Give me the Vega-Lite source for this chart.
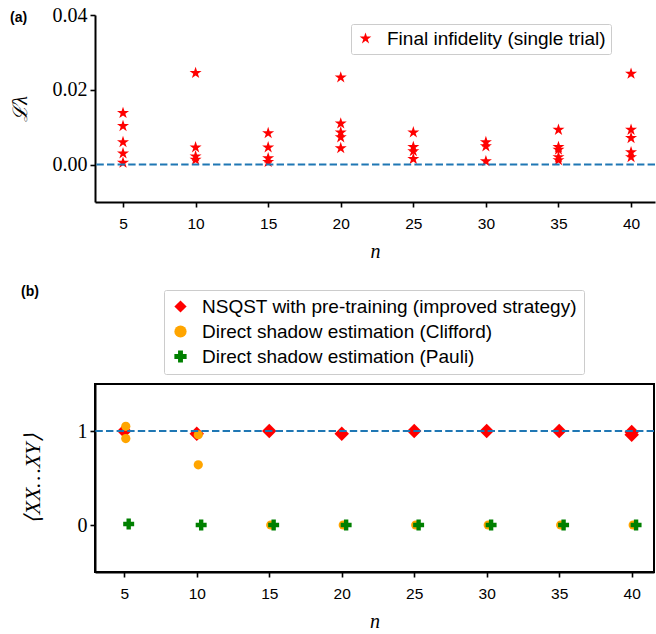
{
  "$schema": "https://vega.github.io/schema/vega-lite/v6.json",
  "padding": {"left": 10, "top": 5, "right": 0, "bottom": 0},
  "spacing": 21,
  "resolve": {"scale": {"color": "independent", "shape": "independent", "x": "independent", "y": "independent"}, "legend": {"color": "independent", "shape": "independent"}},
  "config": {
    "font": "Liberation Sans",
    "view": {"strokeWidth": 2},
    "axis": {"domainColor": "black", "domainWidth": 2, "tickColor": "black", "tickWidth": 1.6, "tickSize": 5, "grid": false, "labelColor": "black", "titleColor": "black", "titleFontWeight": "normal", "titleFont": "Liberation Serif", "titleFontStyle": "italic", "titleFontSize": 20},
    "axisX": {"labelFont": "Liberation Sans", "labelFontSize": 15.5, "labelPadding": 9, "titlePadding": 10},
    "axisY": {"labelFont": "Liberation Serif", "labelFontSize": 20, "labelPadding": 3},
    "legend": {"title": null, "orient": "none", "strokeColor": "#cccccc", "fillColor": "white", "cornerRadius": 2, "padding": 7, "labelFont": "Liberation Sans", "labelFontSize": 19, "labelColor": "black", "labelOffset": 12, "labelLimit": 0, "rowPadding": 5, "symbolSize": 150, "symbolStrokeWidth": 0}
  },
  "datasets": {
    "a": [
      {"n": 5, "loss": 0.0138, "series": "Final infidelity (single trial)"},
      {"n": 5, "loss": 0.0103, "series": "Final infidelity (single trial)"},
      {"n": 5, "loss": 0.0060, "series": "Final infidelity (single trial)"},
      {"n": 5, "loss": 0.0030, "series": "Final infidelity (single trial)"},
      {"n": 5, "loss": 0.0005, "series": "Final infidelity (single trial)"},
      {"n": 10, "loss": 0.0245, "series": "Final infidelity (single trial)"},
      {"n": 10, "loss": 0.0046, "series": "Final infidelity (single trial)"},
      {"n": 10, "loss": 0.0022, "series": "Final infidelity (single trial)"},
      {"n": 10, "loss": 0.0013, "series": "Final infidelity (single trial)"},
      {"n": 15, "loss": 0.0084, "series": "Final infidelity (single trial)"},
      {"n": 15, "loss": 0.0046, "series": "Final infidelity (single trial)"},
      {"n": 15, "loss": 0.0017, "series": "Final infidelity (single trial)"},
      {"n": 15, "loss": 0.0007, "series": "Final infidelity (single trial)"},
      {"n": 20, "loss": 0.0233, "series": "Final infidelity (single trial)"},
      {"n": 20, "loss": 0.0110, "series": "Final infidelity (single trial)"},
      {"n": 20, "loss": 0.0086, "series": "Final infidelity (single trial)"},
      {"n": 20, "loss": 0.0073, "series": "Final infidelity (single trial)"},
      {"n": 20, "loss": 0.0044, "series": "Final infidelity (single trial)"},
      {"n": 25, "loss": 0.0086, "series": "Final infidelity (single trial)"},
      {"n": 25, "loss": 0.0047, "series": "Final infidelity (single trial)"},
      {"n": 25, "loss": 0.0036, "series": "Final infidelity (single trial)"},
      {"n": 25, "loss": 0.0015, "series": "Final infidelity (single trial)"},
      {"n": 30, "loss": 0.0060, "series": "Final infidelity (single trial)"},
      {"n": 30, "loss": 0.0049, "series": "Final infidelity (single trial)"},
      {"n": 30, "loss": 0.0009, "series": "Final infidelity (single trial)"},
      {"n": 35, "loss": 0.0093, "series": "Final infidelity (single trial)"},
      {"n": 35, "loss": 0.0047, "series": "Final infidelity (single trial)"},
      {"n": 35, "loss": 0.0040, "series": "Final infidelity (single trial)"},
      {"n": 35, "loss": 0.0020, "series": "Final infidelity (single trial)"},
      {"n": 35, "loss": 0.0012, "series": "Final infidelity (single trial)"},
      {"n": 40, "loss": 0.0243, "series": "Final infidelity (single trial)"},
      {"n": 40, "loss": 0.0093, "series": "Final infidelity (single trial)"},
      {"n": 40, "loss": 0.0071, "series": "Final infidelity (single trial)"},
      {"n": 40, "loss": 0.0033, "series": "Final infidelity (single trial)"},
      {"n": 40, "loss": 0.0020, "series": "Final infidelity (single trial)"}
    ],
    "b": [
      {"n": 5, "value": 1.0, "series": "NSQST with pre-training (improved strategy)"},
      {"n": 10, "value": 0.97, "series": "NSQST with pre-training (improved strategy)"},
      {"n": 15, "value": 1.0, "series": "NSQST with pre-training (improved strategy)"},
      {"n": 20, "value": 0.97, "series": "NSQST with pre-training (improved strategy)"},
      {"n": 25, "value": 1.0, "series": "NSQST with pre-training (improved strategy)"},
      {"n": 30, "value": 1.0, "series": "NSQST with pre-training (improved strategy)"},
      {"n": 35, "value": 1.0, "series": "NSQST with pre-training (improved strategy)"},
      {"n": 40, "value": 0.99, "series": "NSQST with pre-training (improved strategy)"},
      {"n": 40, "value": 0.96, "series": "NSQST with pre-training (improved strategy)"},
      {"n": 5, "value": 1.05, "series": "Direct shadow estimation (Clifford)"},
      {"n": 5, "value": 0.92, "series": "Direct shadow estimation (Clifford)"},
      {"n": 10, "value": 0.96, "series": "Direct shadow estimation (Clifford)"},
      {"n": 10, "value": 0.64, "series": "Direct shadow estimation (Clifford)"},
      {"n": 15, "value": 0.0, "series": "Direct shadow estimation (Clifford)"},
      {"n": 20, "value": 0.0, "series": "Direct shadow estimation (Clifford)"},
      {"n": 25, "value": 0.0, "series": "Direct shadow estimation (Clifford)"},
      {"n": 30, "value": 0.0, "series": "Direct shadow estimation (Clifford)"},
      {"n": 35, "value": 0.0, "series": "Direct shadow estimation (Clifford)"},
      {"n": 40, "value": 0.0, "series": "Direct shadow estimation (Clifford)"},
      {"n": 5, "value": 0.01, "series": "Direct shadow estimation (Pauli)"},
      {"n": 10, "value": 0.0, "series": "Direct shadow estimation (Pauli)"},
      {"n": 15, "value": 0.0, "series": "Direct shadow estimation (Pauli)"},
      {"n": 20, "value": 0.0, "series": "Direct shadow estimation (Pauli)"},
      {"n": 25, "value": 0.0, "series": "Direct shadow estimation (Pauli)"},
      {"n": 30, "value": 0.0, "series": "Direct shadow estimation (Pauli)"},
      {"n": 35, "value": 0.0, "series": "Direct shadow estimation (Pauli)"},
      {"n": 40, "value": 0.0, "series": "Direct shadow estimation (Pauli)"}
    ]
  },
  "vconcat": [
    {
      "width": 560,
      "height": 187,
      "view": {"stroke": null},
      "title": {"text": "(a)", "anchor": "start", "frame": "bounds", "fontSize": 14, "fontWeight": "bold", "font": "Liberation Sans", "color": "black", "baseline": "middle", "offset": 0, "dy": 27},
      "layer": [
        {
          "data": {"name": "a"},
          "mark": {"type": "point", "filled": true, "opacity": 1, "size": 160},
          "encoding": {
            "x": {"field": "n", "type": "quantitative", "scale": {"domain": [3.07, 41.65], "nice": false, "zero": false}, "axis": {"values": [5, 10, 15, 20, 25, 30, 35, 40], "title": "n"}},
            "y": {"field": "loss", "type": "quantitative", "scale": {"domain": [-0.01, 0.04], "nice": false, "zero": false}, "axis": {"values": [0, 0.02, 0.04], "format": ".2f", "title": "ℒλ", "titlePadding": 22}},
            "color": {"field": "series", "type": "nominal", "scale": {"domain": ["Final infidelity (single trial)"], "range": ["#ff0000"]}, "legend": {"legendX": 256, "legendY": 9, "padding": 5}},
            "shape": {"field": "series", "type": "nominal", "scale": {"domain": ["Final infidelity (single trial)"], "range": ["M0,-1L0.2245,-0.309L0.951,-0.309L0.363,0.118L0.588,0.809L0,0.382L-0.588,0.809L-0.363,0.118L-0.951,-0.309L-0.2245,-0.309Z"]}}
          }
        },
        {
          "data": {"values": [{}]},
          "mark": {"type": "rule", "color": "#1f77b4", "strokeWidth": 2, "strokeDash": [7.4, 3.2]},
          "encoding": {"y": {"datum": 0, "type": "quantitative"}}
        }
      ]
    },
    {
      "width": 559,
      "height": 188,
      "view": {"stroke": "black", "strokeWidth": 2},
      "title": {"text": "(b)", "anchor": "start", "frame": "bounds", "fontSize": 14, "fontWeight": "bold", "font": "Liberation Sans", "color": "black", "baseline": "middle", "offset": 0, "dy": 16},
      "layer": [
        {
          "data": {"name": "b"},
          "transform": [{"filter": "datum.series === 'NSQST with pre-training (improved strategy)'"}],
          "mark": {"type": "point", "filled": true, "opacity": 1, "size": 210},
          "encoding": {
            "x": {"field": "n", "type": "quantitative", "scale": {"domain": [2.98, 41.54], "nice": false, "zero": false}, "axis": {"values": [5, 10, 15, 20, 25, 30, 35, 40], "title": "n"}},
            "y": {"field": "value", "type": "quantitative", "scale": {"domain": [-0.5, 1.5], "nice": false, "zero": false}, "axis": {"values": [0, 1], "format": "d", "title": "⟨XX…XY⟩", "titleFontSize": 22, "titlePadding": 33}},
            "color": {"field": "series", "type": "nominal", "scale": {"domain": ["NSQST with pre-training (improved strategy)", "Direct shadow estimation (Clifford)", "Direct shadow estimation (Pauli)"], "range": ["#ff0000", "#ffa500", "#008000"]}, "legend": {"legendX": 69, "legendY": -94}},
            "shape": {"field": "series", "type": "nominal", "scale": {"domain": ["NSQST with pre-training (improved strategy)", "Direct shadow estimation (Clifford)", "Direct shadow estimation (Pauli)"], "range": ["diamond", "circle", "cross"]}}
          }
        },
        {
          "data": {"name": "b"},
          "transform": [{"filter": "datum.series === 'Direct shadow estimation (Clifford)'"}],
          "mark": {"type": "point", "filled": true, "opacity": 1, "size": 85, "xOffset": 1.5},
          "encoding": {
            "x": {"field": "n", "type": "quantitative"},
            "y": {"field": "value", "type": "quantitative"},
            "color": {"field": "series", "type": "nominal"},
            "shape": {"field": "series", "type": "nominal"}
          }
        },
        {
          "data": {"name": "b"},
          "transform": [{"filter": "datum.series === 'Direct shadow estimation (Pauli)'"}],
          "mark": {"type": "point", "filled": true, "opacity": 1, "size": 120, "xOffset": 4.4},
          "encoding": {
            "x": {"field": "n", "type": "quantitative"},
            "y": {"field": "value", "type": "quantitative"},
            "color": {"field": "series", "type": "nominal"},
            "shape": {"field": "series", "type": "nominal"}
          }
        },
        {
          "data": {"values": [{}]},
          "mark": {"type": "rule", "color": "#1f77b4", "strokeWidth": 2, "strokeDash": [7.4, 3.2]},
          "encoding": {"y": {"datum": 1, "type": "quantitative"}}
        }
      ]
    }
  ]
}
